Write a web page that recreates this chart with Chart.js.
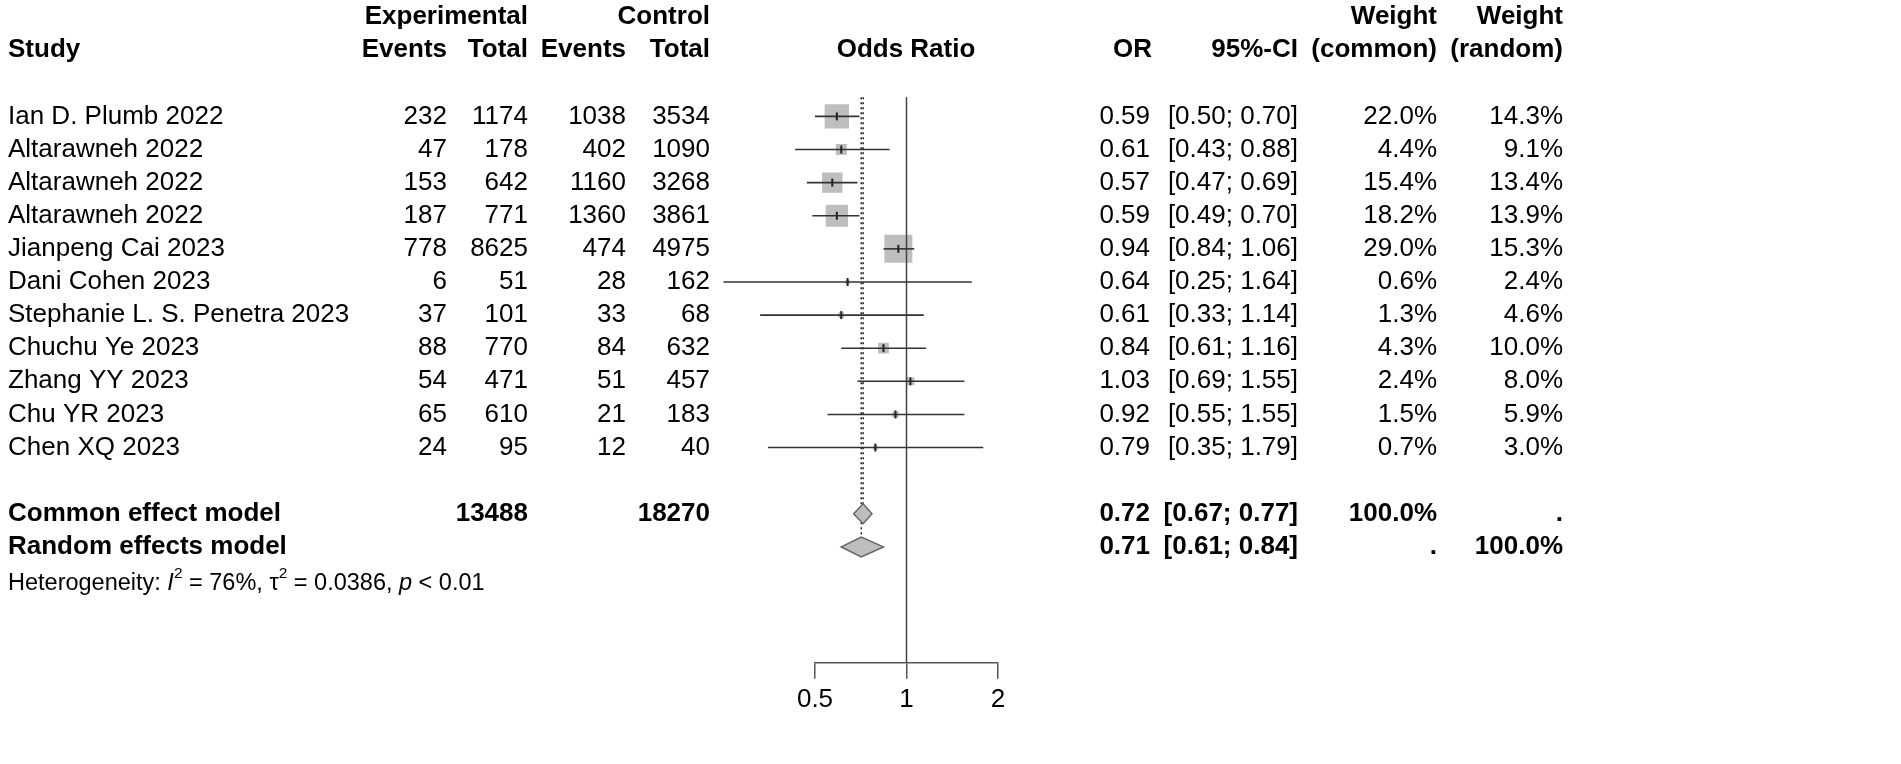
<!DOCTYPE html>
<html><head><meta charset="utf-8">
<script src="https://cdn.jsdelivr.net/npm/chart.js@4.4.0/dist/chart.umd.min.js"></script>
<style>html,body{margin:0;padding:0;background:#fff}#wrap{width:1901px;height:764px}</style>
</head><body><div id="wrap"><canvas id="c" width="1901" height="764"></canvas></div>
<script>
// ---------- data ----------
const studies = ["Ian D. Plumb 2022","Altarawneh 2022","Altarawneh 2022","Altarawneh 2022","Jianpeng Cai 2023","Dani Cohen 2023","Stephanie L. S. Penetra 2023","Chuchu Ye 2023","Zhang YY 2023","Chu YR 2023","Chen XQ 2023"];
const expEvents = [232,47,153,187,778,6,37,88,54,65,24];
const expTotal  = [1174,178,642,771,8625,51,101,770,471,610,95];
const ctlEvents = [1038,402,1160,1360,474,28,33,84,51,21,12];
const ctlTotal  = [3534,1090,3268,3861,4975,162,68,632,457,183,40];
const oddsRatio = [0.59,0.61,0.57,0.59,0.94,0.64,0.61,0.84,1.03,0.92,0.79];
const ciLower   = [0.50,0.43,0.47,0.49,0.84,0.25,0.33,0.61,0.69,0.55,0.35];
const ciUpper   = [0.70,0.88,0.69,0.70,1.06,1.64,1.14,1.16,1.55,1.55,1.79];
const weightCommon = [22.0,4.4,15.4,18.2,29.0,0.6,1.3,4.3,2.4,1.5,0.7];
const weightRandom = [14.3,9.1,13.4,13.9,15.3,2.4,4.6,10.0,8.0,5.9,3.0];
const pooledLabels = ["Common effect model","Random effects model"];
const pooledOR    = [0.72,0.71];
const pooledLower = [0.67,0.61];
const pooledUpper = [0.77,0.84];
const pooledExpTotal = 13488;
const pooledCtlTotal = 18270;
const hetI2 = "76%", hetTau2 = "0.0386", hetP = "< 0.01";
const tickValues = [0.5,1,2];

// ---------- layout ----------
const FONT = "'Liberation Sans', Arial, Helvetica, sans-serif";
const FS = 26;
const rows = studies.map((_, i) => i);
const commonRow = 12, randomRow = 13, hetRow = 14.1;
const SQ = 5.2; // square side per sqrt(weight)

const forestPlugin = {
  id: 'forest',
  afterDatasetsDraw(chart) {
    const {ctx, chartArea} = chart;
    const x = chart.scales.x, y = chart.scales.y;
    ctx.save();
    const yTop = y.getPixelForValue(-0.58);
    // line of no effect
    ctx.strokeStyle = '#444'; ctx.lineWidth = 1.5;
    ctx.beginPath();
    ctx.moveTo(x.getPixelForValue(1), yTop);
    ctx.lineTo(x.getPixelForValue(1), chartArea.bottom);
    ctx.stroke();
    // pooled effect dotted lines
    ctx.strokeStyle = '#222'; ctx.lineWidth = 1.5; ctx.setLineDash([2,3]);
    [commonRow, randomRow].forEach((r, k) => {
      const px = x.getPixelForValue(pooledOR[k]);
      ctx.beginPath();
      ctx.moveTo(px, yTop);
      ctx.lineTo(px, y.getPixelForValue(r - 0.3));
      ctx.stroke();
    });
    ctx.setLineDash([]);
    // CI lines and estimate ticks
    rows.forEach(i => {
      const py = y.getPixelForValue(i);
      ctx.strokeStyle = '#333'; ctx.lineWidth = 1.6;
      ctx.beginPath();
      ctx.moveTo(x.getPixelForValue(ciLower[i]), py);
      ctx.lineTo(x.getPixelForValue(ciUpper[i]), py);
      ctx.stroke();
      const px = x.getPixelForValue(oddsRatio[i]);
      ctx.strokeStyle = '#222'; ctx.lineWidth = 2;
      ctx.beginPath();
      ctx.moveTo(px, py - 4); ctx.lineTo(px, py + 4);
      ctx.stroke();
    });
    // diamonds
    [commonRow, randomRow].forEach((r, k) => {
      const yc = y.getPixelForValue(r);
      const h = y.getPixelForValue(r + 0.3) - yc;
      ctx.beginPath();
      ctx.moveTo(x.getPixelForValue(pooledLower[k]), yc);
      ctx.lineTo(x.getPixelForValue(pooledOR[k]), yc - h);
      ctx.lineTo(x.getPixelForValue(pooledUpper[k]), yc);
      ctx.lineTo(x.getPixelForValue(pooledOR[k]), yc + h);
      ctx.closePath();
      ctx.fillStyle = '#bebebe'; ctx.fill();
      ctx.strokeStyle = '#666'; ctx.lineWidth = 1.5; ctx.stroke();
    });
    ctx.restore();
  },
  afterDraw(chart) {
    const {ctx} = chart;
    const y = chart.scales.y;
    ctx.save();
    ctx.fillStyle = '#000';
    ctx.textBaseline = 'middle';
    const put = (txt, px, row, align, bold, size) => {
      ctx.font = (bold ? 'bold ' : '') + (size || FS) + 'px ' + FONT;
      ctx.textAlign = align;
      ctx.fillText(txt, px, y.getPixelForValue(row));
    };
    // headers
    put('Experimental', 528, -3, 'right', true);
    put('Control', 710, -3, 'right', true);
    put('Weight', 1437, -3, 'right', true);
    put('Weight', 1563, -3, 'right', true);
    put('Study', 8, -2, 'left', true);
    put('Events', 447, -2, 'right', true);
    put('Total', 528, -2, 'right', true);
    put('Events', 626, -2, 'right', true);
    put('Total', 710, -2, 'right', true);
    put('Odds Ratio', 906, -2, 'center', true);
    put('OR', 1152, -2, 'right', true);
    put('95%-CI', 1298, -2, 'right', true);
    put('(common)', 1437, -2, 'right', true);
    put('(random)', 1563, -2, 'right', true);
    // study rows
    rows.forEach(i => {
      put(studies[i], 8, i, 'left');
      put(String(expEvents[i]), 447, i, 'right');
      put(String(expTotal[i]), 528, i, 'right');
      put(String(ctlEvents[i]), 626, i, 'right');
      put(String(ctlTotal[i]), 710, i, 'right');
      put(oddsRatio[i].toFixed(2), 1150, i, 'right');
      put('[' + ciLower[i].toFixed(2) + '; ' + ciUpper[i].toFixed(2) + ']', 1298, i, 'right');
      put(weightCommon[i].toFixed(1) + '%', 1437, i, 'right');
      put(weightRandom[i].toFixed(1) + '%', 1563, i, 'right');
    });
    // pooled rows
    [commonRow, randomRow].forEach((r, k) => {
      put(pooledLabels[k], 8, r, 'left', true);
      put(pooledOR[k].toFixed(2), 1150, r, 'right', true);
      put('[' + pooledLower[k].toFixed(2) + '; ' + pooledUpper[k].toFixed(2) + ']', 1298, r, 'right', true);
      put(k === 0 ? '100.0%' : '.', 1437, r, 'right', true);
      put(k === 1 ? '100.0%' : '.', 1563, r, 'right', true);
    });
    put(String(pooledExpTotal), 528, commonRow, 'right', true);
    put(String(pooledCtlTotal), 710, commonRow, 'right', true);
    // heterogeneity
    const hs = 23.5, sup = 15.5;
    const py = y.getPixelForValue(hetRow);
    let cx = 8;
    ctx.textAlign = 'left';
    const seg = (t, style, size, dy) => {
      ctx.font = style + size + 'px ' + FONT;
      ctx.fillText(t, cx, py + (dy || 0));
      cx += ctx.measureText(t).width;
    };
    seg('Heterogeneity: ', '', hs);
    seg('I', 'italic ', hs);
    seg('2', '', sup, -10);
    seg(' = ' + hetI2 + ', ', '', hs);
    seg('\u03C4', '', hs);
    seg('2', '', sup, -10);
    seg(' = ' + hetTau2 + ', ', '', hs);
    seg('p', 'italic ', hs);
    seg(' ' + hetP, '', hs);
    ctx.restore();
  }
};

new Chart(document.getElementById('c'), {
  type: 'scatter',
  data: {
    datasets: [{
      label: 'Study OR',
      data: rows.map(i => ({x: oddsRatio[i], y: i})),
      pointStyle: 'rect',
      pointRadius: weightCommon.map(w => SQ * Math.sqrt(w) / Math.SQRT2),
      pointHoverRadius: weightCommon.map(w => SQ * Math.sqrt(w) / Math.SQRT2),
      backgroundColor: '#bebebe',
      borderWidth: 0
    }]
  },
  options: {
    responsive: false,
    animation: false,
    events: [],
    layout: {autoPadding: false, padding: {left: 815, right: 903, top: 0, bottom: 44}},
    plugins: {legend: {display: false}, tooltip: {enabled: false}, title: {display: false}},
    scales: {
      x: {
        type: 'logarithmic',
        min: 0.5, max: 2,
        afterBuildTicks: s => { s.ticks = tickValues.map(v => ({value: v})); },
        ticks: {
          callback: v => String(v),
          color: '#000',
          font: {size: FS, family: FONT},
          padding: 5,
          maxRotation: 0,
          autoSkip: false
        },
        grid: {drawOnChartArea: false, drawTicks: true, tickLength: 16, color: '#555', lineWidth: 1.5},
        border: {display: true, color: '#555', width: 1.5}
      },
      y: {
        type: 'linear', display: false, reverse: true,
        min: -3.515, max: 16.5
      }
    }
  },
  plugins: [forestPlugin]
});
</script>
</body></html>
